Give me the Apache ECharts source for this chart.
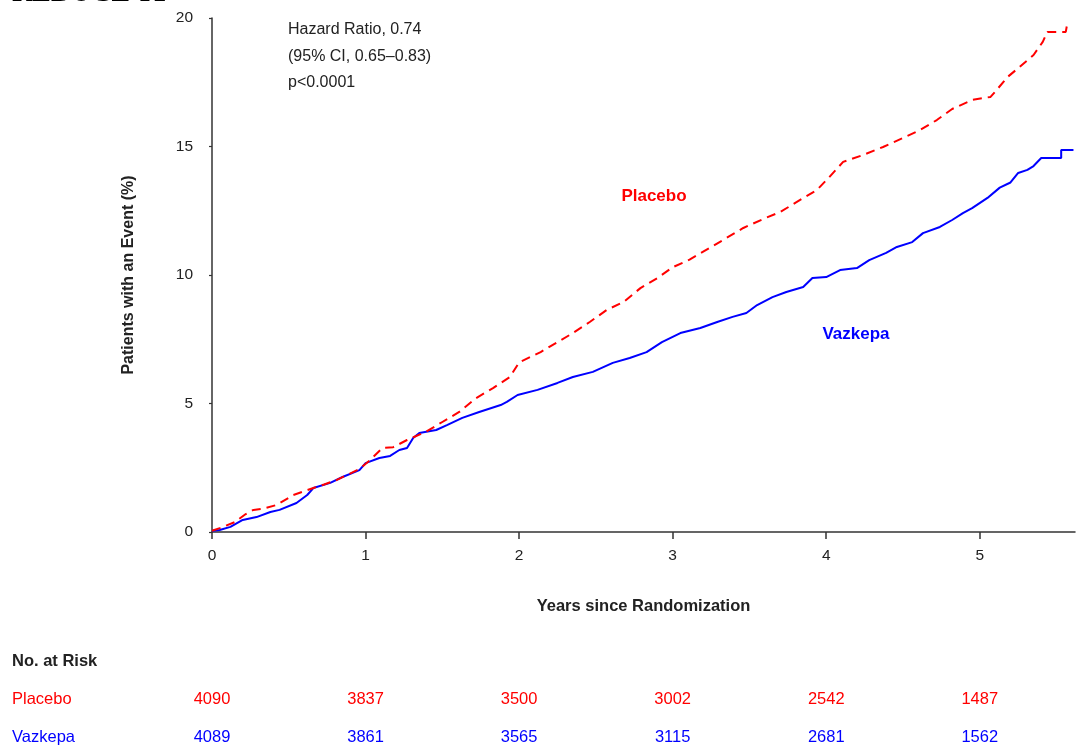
<!DOCTYPE html>
<html>
<head>
<meta charset="utf-8">
<script src="https://cdn.jsdelivr.net/npm/echarts@6/dist/echarts.min.js"></script>
<style>
html,body{margin:0;padding:0;background:#fff;}
#main{width:1077px;height:747px;}
</style>
</head>
<body>
<div id="main"></div>
<script>
// ---- Data ----
const xTicks = [0, 1, 2, 3, 4, 5];
const yTicks = [0, 5, 10, 15, 20];

const placeboTimes = [0,0.05,0.15,0.22,0.27,0.33,0.42,0.53,0.66,0.73,0.81,0.96,1.03,1.11,1.18,1.27,1.39,1.5,1.61,1.72,1.83,1.94,2.0,2.14,2.25,2.35,2.46,2.57,2.68,2.79,2.90,3.0,3.11,3.24,3.35,3.46,3.59,3.70,3.83,3.94,4.02,4.11,4.24,4.37,4.50,4.61,4.72,4.82,4.95,5.07,5.11,5.18,5.26,5.35,5.41,5.44,5.56,5.57];
const placeboPct   = [0.05,0.15,0.39,0.7,0.86,0.9,1.05,1.44,1.71,1.85,2.02,2.45,2.8,3.27,3.3,3.58,3.89,4.28,4.67,5.21,5.6,6.03,6.6,7.0,7.39,7.74,8.17,8.64,8.95,9.49,9.88,10.3,10.6,11.05,11.44,11.83,12.18,12.45,12.92,13.31,13.81,14.4,14.67,14.98,15.33,15.64,16.03,16.46,16.81,16.93,17.2,17.7,18.1,18.56,19.07,19.46,19.46,19.8];

const vazkepaTimes = [0,0.05,0.12,0.2,0.29,0.38,0.44,0.55,0.62,0.66,0.77,0.85,0.96,1.0,1.09,1.16,1.22,1.27,1.31,1.35,1.46,1.53,1.63,1.74,1.88,1.92,1.99,2.12,2.25,2.35,2.48,2.61,2.72,2.83,2.93,3.05,3.18,3.29,3.39,3.48,3.55,3.65,3.74,3.85,3.91,4.0,4.09,4.20,4.28,4.39,4.46,4.56,4.63,4.74,4.82,4.89,4.95,5.05,5.13,5.20,5.25,5.31,5.35,5.40,5.53,5.53,5.61];
const vazkepaPct   = [0.05,0.08,0.2,0.47,0.58,0.78,0.86,1.13,1.44,1.71,1.91,2.14,2.41,2.68,2.88,2.96,3.19,3.27,3.66,3.85,3.97,4.16,4.44,4.67,4.94,5.06,5.33,5.53,5.8,6.03,6.23,6.58,6.77,7.0,7.39,7.74,7.94,8.17,8.37,8.52,8.83,9.14,9.34,9.53,9.88,9.92,10.19,10.27,10.58,10.86,11.09,11.28,11.63,11.87,12.14,12.41,12.6,13.0,13.4,13.6,13.97,14.09,14.24,14.55,14.55,14.86,14.86];

const riskTimes   = [0, 1, 2, 3, 4, 5];
const riskPlacebo = [4090, 3837, 3500, 3002, 2542, 1487];
const riskVazkepa = [4089, 3861, 3565, 3115, 2681, 1562];

const annotationLines = ['Hazard Ratio, 0.74', '(95% CI, 0.65\u20130.83)', 'p<0.0001'];

// ---- Chart ----
const FONT = "'Liberation Sans', Arial, Helvetica, sans-serif";
const RED = '#ff0000';
const BLUE = '#0000ff';
const AXIS = '#333333';

const chart = echarts.init(document.getElementById('main'), null, {renderer: 'canvas'});

const zip = (a, b) => a.map((t, i) => [t, b[i]]);

const option = {
  animation: false,
  backgroundColor: '#ffffff',
  grid: {left: 212, top: 18, right: 2, bottom: 215, containLabel: false},
  xAxis: {
    type: 'value',
    min: 0,
    max: 5.62,
    interval: 1,
    name: 'Years since Randomization',
    nameLocation: 'middle',
    nameGap: 66,
    nameTextStyle: {fontFamily: FONT, fontSize: 16.5, fontWeight: 'bold', color: '#222'},
    axisLine: {show: true, onZero: false, lineStyle: {color: AXIS, width: 1.5}},
    axisTick: {show: true, length: 7, lineStyle: {color: AXIS, width: 1.5},
      customValues: xTicks},
    axisLabel: {fontFamily: FONT, fontSize: 15.5, color: '#222', margin: 16,
      customValues: xTicks,
      formatter: v => String(v)},
    splitLine: {show: false}
  },
  yAxis: {
    type: 'value',
    min: 0,
    max: 20,
    interval: 5,
    name: 'Patients with an Event (%)',
    nameLocation: 'middle',
    nameGap: 75,
    nameTextStyle: {fontFamily: FONT, fontSize: 16, fontWeight: 'bold', color: '#222'},
    axisLine: {show: true, lineStyle: {color: AXIS, width: 1.5}},
    axisTick: {show: true, length: 3, lineStyle: {color: AXIS, width: 1.2}},
    axisLabel: {fontFamily: FONT, fontSize: 15.5, color: '#222', margin: 19,
      formatter: v => (yTicks.indexOf(v) >= 0 ? String(v) : '')},
    splitLine: {show: false}
  },
  series: [
    {
      name: 'Placebo',
      type: 'line',
      data: zip(placeboTimes, placeboPct),
      showSymbol: false,
      symbol: 'none',
      lineStyle: {color: RED, width: 2, type: [9, 6]},
      z: 3
    },
    {
      name: 'Vazkepa',
      type: 'line',
      data: zip(vazkepaTimes, vazkepaPct),
      showSymbol: false,
      symbol: 'none',
      lineStyle: {color: BLUE, width: 2},
      z: 2
    }
  ]
};

chart.setOption(option);

// ---- Text overlays (annotations + risk table), positioned via axis scale ----
const graphics = [];
graphics.push({
  type: 'text', x: 12, y: 8,
  style: {text: 'REDUCE-IT', font: "bold 28px 'Liberation Serif', 'Times New Roman', serif",
    fill: '#000', verticalAlign: 'bottom'}
});
annotationLines.forEach((s, i) => {
  graphics.push({type: 'text', x: 288, y: 30 + i * 26.5,
    style: {text: s, font: '16px ' + FONT, fill: '#222', verticalAlign: 'middle'}});
});
graphics.push({type: 'text', x: 654, y: 196,
  style: {text: 'Placebo', font: 'bold 17px ' + FONT, fill: RED, align: 'center', verticalAlign: 'middle'}});
graphics.push({type: 'text', x: 856, y: 334,
  style: {text: 'Vazkepa', font: 'bold 17px ' + FONT, fill: BLUE, align: 'center', verticalAlign: 'middle'}});

graphics.push({type: 'text', x: 12, y: 661,
  style: {text: 'No. at Risk', font: 'bold 16.5px ' + FONT, fill: '#222', verticalAlign: 'middle'}});
graphics.push({type: 'text', x: 12, y: 699,
  style: {text: 'Placebo', font: '16.5px ' + FONT, fill: RED, verticalAlign: 'middle'}});
graphics.push({type: 'text', x: 12, y: 737,
  style: {text: 'Vazkepa', font: '16.5px ' + FONT, fill: BLUE, verticalAlign: 'middle'}});

riskTimes.forEach((t, i) => {
  const px = chart.convertToPixel({xAxisIndex: 0}, t);
  graphics.push({type: 'text', x: px, y: 699,
    style: {text: String(riskPlacebo[i]), font: '16.5px ' + FONT, fill: RED, align: 'center', verticalAlign: 'middle'}});
  graphics.push({type: 'text', x: px, y: 737,
    style: {text: String(riskVazkepa[i]), font: '16.5px ' + FONT, fill: BLUE, align: 'center', verticalAlign: 'middle'}});
});

chart.setOption({graphic: {elements: graphics}});
</script>
</body>
</html>
